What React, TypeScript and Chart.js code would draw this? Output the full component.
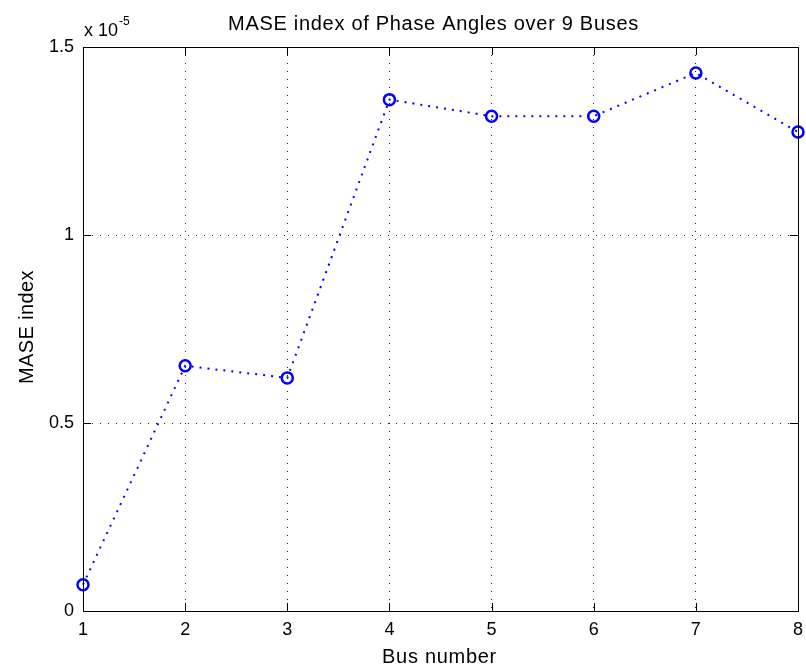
import React, { useEffect, useRef } from "react";
import { Chart, registerables } from "chart.js";

Chart.register(...registerables);

const buses = [1, 2, 3, 4, 5, 6, 7, 8];
// MASE values in units of 1e-5
const maseValues = [0.07, 0.652, 0.62, 1.36, 1.316, 1.316, 1.431, 1.274];
const yTicks = [0, 0.5, 1, 1.5];
const exponentLabel = "-5";
const titleText = "MASE index of Phase Angles over 9 Buses";
const xTitle = "Bus number";
const yTitle = "MASE index";

const FONT = "'Liberation Sans', Arial, Helvetica, sans-serif";

const decorPlugin = {
  id: "decor",
  afterDraw(chart: any) {
    const { ctx, chartArea } = chart;
    const { left, right, top, bottom } = chartArea;
    const xs = chart.scales.x;
    const ys = chart.scales.y;
    ctx.save();
    ctx.strokeStyle = "#000";
    ctx.lineWidth = 1;
    ctx.setLineDash([]);
    // box
    ctx.strokeRect(Math.round(left) + 0.5, Math.round(top) + 0.5, Math.round(right - left), Math.round(bottom - top));
    const tl = 8;
    for (const b of buses) {
      const px = Math.round(xs.getPixelForValue(b)) + 0.5;
      ctx.beginPath();
      ctx.moveTo(px, bottom);
      ctx.lineTo(px, bottom - tl);
      ctx.moveTo(px, top);
      ctx.lineTo(px, top + tl);
      ctx.stroke();
    }
    for (const v of yTicks) {
      const py = Math.round(ys.getPixelForValue(v)) + 0.5;
      ctx.beginPath();
      ctx.moveTo(left, py);
      ctx.lineTo(left + tl, py);
      ctx.moveTo(right, py);
      ctx.lineTo(right - tl, py);
      ctx.stroke();
    }
    ctx.fillStyle = "#000";
    ctx.textAlign = "center";
    ctx.textBaseline = "middle";
    // title
    ctx.font = `20px ${FONT}`;
    (ctx as any).letterSpacing = "0.7px";
    ctx.fillText(titleText, 433.5, 24);
    // x title
    ctx.fillText(xTitle, 439.5, 657);
    // y title
    (ctx as any).letterSpacing = "0.4px";
    ctx.save();
    ctx.translate(27, 327);
    ctx.rotate(-Math.PI / 2);
    ctx.fillText(yTitle, 0, 0);
    ctx.restore();
    // multiplier
    (ctx as any).letterSpacing = "0px";
    ctx.textAlign = "left";
    ctx.font = `18px ${FONT}`;
    ctx.fillText("x 10", 84, 31);
    const w = ctx.measureText("x 10").width;
    ctx.font = `12px ${FONT}`;
    ctx.fillText(exponentLabel, 84 + w + 1, 22);
    ctx.restore();
  },
};

export default function App() {
  const ref = useRef<HTMLCanvasElement | null>(null);
  useEffect(() => {
    if (!ref.current) return;
    const chart = new Chart(ref.current, {
      type: "line",
      data: {
        datasets: [
          {
            data: buses.map((b, i) => ({ x: b, y: maseValues[i] })),
            borderColor: "#0000ff",
            borderWidth: 2,
            borderDash: [2, 6],
            pointStyle: "circle",
            pointRadius: 5.5,
            pointBorderWidth: 2.5,
            pointBorderColor: "#0000ff",
            pointBackgroundColor: "rgba(0,0,0,0)",
            tension: 0,
            fill: false,
            clip: false as any,
          },
        ],
      },
      options: {
        responsive: false,
        animation: false,
        layout: { padding: { left: 0, top: 47, right: 8, bottom: 0 } },
        plugins: { legend: { display: false }, tooltip: { enabled: false }, title: { display: false } },
        scales: {
          x: {
            type: "linear",
            min: 1,
            max: 8,
            afterFit(scale: any) {
              scale.height = 61;
              scale.paddingLeft = 0;
              scale.paddingRight = 0;
            },
            afterBuildTicks(scale: any) {
              scale.ticks = buses.map((b) => ({ value: b }));
            },
            grid: { color: "#222", drawTicks: false, lineWidth: 1 } as any,
            border: { display: true, color: "#000", width: 1, dash: [1, 7] } as any,
            ticks: {
              padding: 8,
              color: "#000",
              font: { family: FONT, size: 18 },
              maxRotation: 0,
              callback: (v: any) => String(v),
            },
          },
          y: {
            type: "linear",
            min: 0,
            max: 1.5,
            afterFit(scale: any) {
              scale.width = 83;
              scale.paddingTop = 0;
              scale.paddingBottom = 0;
            },
            afterBuildTicks(scale: any) {
              scale.ticks = yTicks.map((v) => ({ value: v }));
            },
            grid: { color: "#222", drawTicks: false, lineWidth: 1 } as any,
            border: { display: true, color: "#000", width: 1, dash: [1, 7] } as any,
            ticks: {
              padding: 9,
              color: "#000",
              font: { family: FONT, size: 18 },
              callback: (v: any) => String(v),
            },
          },
        },
      },
      plugins: [decorPlugin],
    });
    return () => chart.destroy();
  }, []);
  return (
    <div style={{ position: "fixed", left: 0, top: 0, width: 806, height: 672, background: "#fff" }}>
      <canvas ref={ref} width={806} height={672} />
    </div>
  );
}
